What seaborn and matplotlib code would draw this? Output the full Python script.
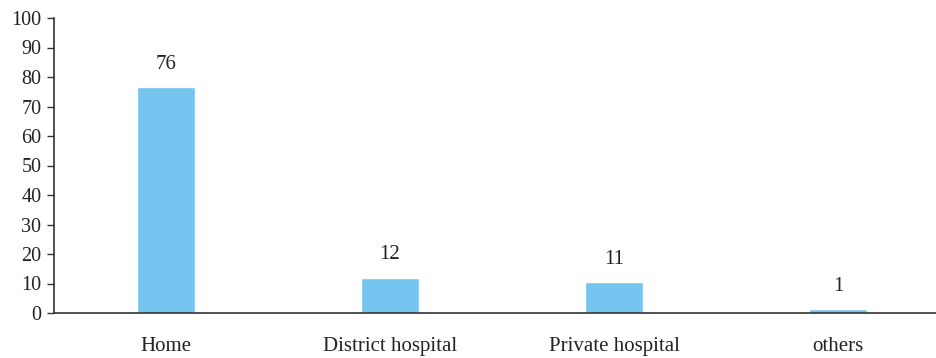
import numpy as np
import pandas as pd
import matplotlib
matplotlib.use("Agg")
import matplotlib.pyplot as plt
import seaborn as sns

places = ["Home", "District hospital", "Private hospital", "others"]
share = [76.6, 11.9, 10.5, 1.2]
share_labels = ["76", "12", "11", "1"]

sns.set_style("white")
plt.rcParams["font.family"] = ["Liberation Serif", "DejaVu Serif"]

df = pd.DataFrame({"place": places, "share": share})

fig = plt.figure(figsize=(9.37, 3.58), dpi=100)
ax = fig.add_axes([54 / 937, 45 / 358, 1 - 54 / 937, 295 / 358])

sns.barplot(data=df, x="place", y="share", color="#75C4EF", saturation=1,
            width=0.26, ax=ax)

# value labels above bars
for i, (v, lab) in enumerate(zip(share, share_labels)):
    ax.text(i, v + 7.8, lab, ha="center", va="center", fontsize=15, color="#222222")

ax.set_xlim(-0.5, 3.442)
ax.set_ylim(0, 100)
ax.set_yticks(range(0, 101, 10))
ax.set_xlabel("")
ax.set_ylabel("")
sns.despine(ax=ax, top=True, right=True)
for s in ["left", "bottom"]:
    ax.spines[s].set_color("#333333")
    ax.spines[s].set_linewidth(1.2)
ax.tick_params(axis="y", left=True, length=5, width=1, color="#333333",
               labelsize=14.5, labelcolor="#222222", pad=4)
ax.tick_params(axis="x", bottom=False, labelsize=15, labelcolor="#222222", pad=14)

fig.savefig("out.png", dpi=100)
